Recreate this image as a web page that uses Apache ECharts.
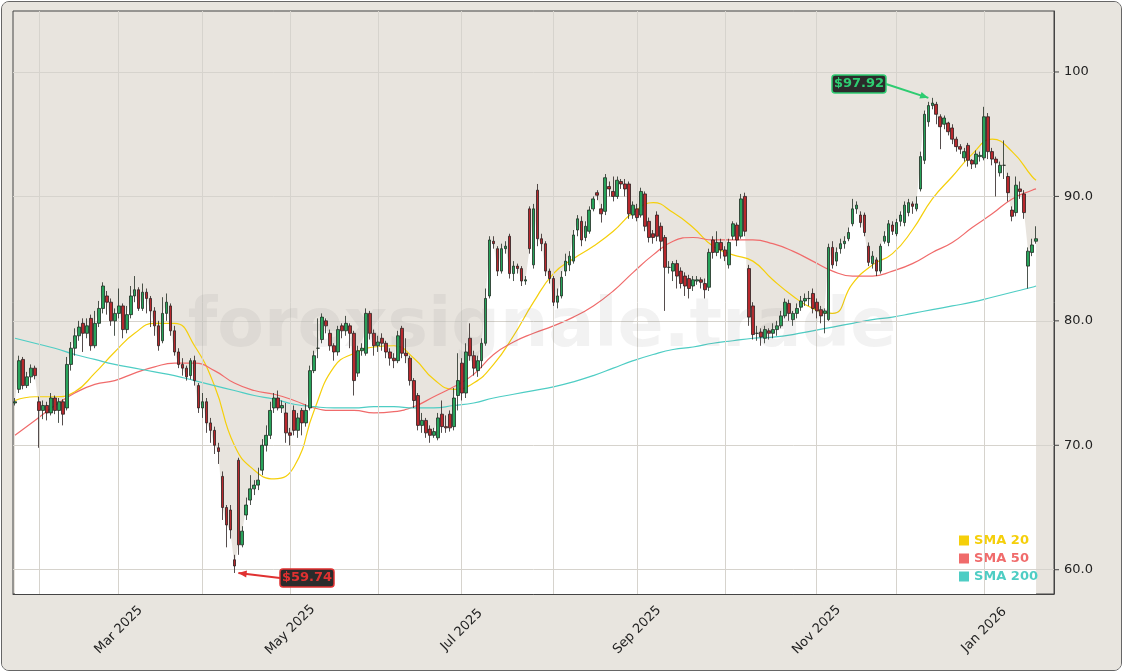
<!DOCTYPE html>
<html>
<head>
<meta charset="utf-8">
<script src="https://cdn.jsdelivr.net/npm/echarts@6/dist/echarts.min.js"></script>
<style>
html,body{margin:0;padding:0;background:#fff;}
#frame{position:absolute;left:1px;top:1px;width:1119px;height:668px;border:1px solid #666;border-radius:8px;background:#e8e5df;overflow:hidden;}
#chart{width:1121px;height:670px;}
</style>
</head>
<body>
<div id="frame"><div id="chart"></div></div>
<script>
// OHLC per trading day: [open, close, low, high]
var candles = [
[73.4,73.5,73.2,73.8],[74.5,76.8,74.2,77.2],[76.9,74.8,74.5,77.1],[74.8,75.5,74.6,75.9],[75.5,76.2,75.0,76.5],
[76.2,75.6,75.3,76.4],[73.5,72.8,69.8,73.9],[72.8,73.2,72.1,73.6],[73.2,72.6,72.0,73.5],[72.6,73.8,72.4,74.2],
[73.8,72.8,72.5,74.0],[72.8,73.5,71.8,73.8],[73.5,72.5,71.6,73.7],[73.0,76.5,72.8,77.1],[76.5,77.8,76.0,78.3],
[77.8,78.8,77.2,79.4],[78.8,79.5,78.4,80.0],[79.8,79.0,77.5,80.2],[79.0,79.6,78.6,80.2],[80.2,78.0,77.6,80.5],
[78.0,79.8,77.8,80.8],[79.8,81.0,79.5,81.6],[81.0,82.8,80.6,83.1],[82.0,81.5,80.5,82.4],[81.5,80.0,79.6,81.8],
[80.0,80.6,78.8,81.0],[80.6,81.2,80.2,82.6],[81.2,79.3,78.6,81.4],[79.3,80.5,79.0,81.2],[80.5,82.0,80.2,82.8],
[82.0,82.5,81.5,83.6],[82.5,81.0,80.8,82.7],[81.0,82.3,80.8,83.0],[82.3,81.8,80.6,82.6],[81.8,80.8,79.5,82.0],
[80.8,79.6,78.8,81.1],[79.6,78.0,77.6,80.0],[78.4,80.6,78.2,81.9],[80.6,81.5,80.0,82.2],[81.2,79.2,78.8,81.4],
[79.2,77.5,77.2,79.6],[77.5,76.5,76.2,77.8],[76.5,76.2,75.6,77.0],[76.2,75.5,75.2,76.4],[75.6,76.8,75.3,77.0],
[76.8,75.2,74.8,77.2],[74.8,73.0,72.6,75.0],[73.0,73.5,72.2,74.2],[73.5,71.8,71.0,73.8],[71.8,71.2,70.2,72.2],
[71.2,70.0,69.3,71.5],[69.8,69.5,68.5,70.2],[67.5,65.0,64.0,67.9],[65.0,63.6,61.8,65.2],[64.8,63.2,62.5,65.2],
[60.8,60.3,59.74,61.2],[68.8,62.0,61.2,69.0],[62.0,63.1,61.8,63.5],[64.4,65.2,64.0,65.8],[65.6,66.5,65.2,67.6],
[66.5,66.8,66.0,67.2],[66.8,67.2,66.4,68.2],[68.0,70.0,67.6,70.5],[70.0,70.8,69.5,71.6],[70.8,72.8,70.5,73.5],
[73.0,73.8,72.6,74.2],[73.8,73.0,72.8,74.4],[73.0,73.2,72.6,73.6],[72.6,71.0,70.2,73.4],[71.0,70.8,70.0,71.4],
[72.8,71.2,70.8,73.2],[71.2,72.2,70.6,72.6],[72.8,71.8,70.8,73.0],[71.8,72.8,71.5,73.3],[73.0,76.0,72.8,76.4],
[76.0,77.2,75.8,77.6],[77.8,77.8,77.0,80.2],[78.5,80.3,78.2,80.6],[80.0,79.6,79.0,80.2],[79.0,78.0,77.6,79.3],
[78.0,77.5,76.8,78.2],[77.5,79.3,77.2,79.6],[79.6,79.2,78.6,79.8],[79.2,79.8,78.8,80.4],[79.6,79.0,77.8,79.8],
[79.0,75.2,74.0,79.2],[75.8,77.6,75.5,78.0],[77.6,77.8,77.2,78.2],[77.4,80.6,77.2,81.0],[80.6,79.0,78.5,80.8],
[79.0,78.0,77.2,79.3],[78.0,78.3,77.5,78.8],[78.6,78.2,77.6,79.0],[78.2,77.5,77.0,78.4],[77.5,77.0,76.4,77.8],
[77.0,76.8,76.2,77.4],[76.8,78.8,76.6,79.2],[79.4,77.4,77.0,79.6],[77.4,77.2,76.6,78.6],[77.0,75.2,74.8,77.2],
[75.2,73.6,73.0,75.4],[74.0,71.6,71.2,74.2],[71.6,72.0,71.0,72.6],[72.0,71.0,70.6,72.2],[71.3,70.8,70.2,71.6],
[70.8,71.1,70.6,71.4],[70.6,72.2,70.4,72.6],[72.5,71.5,71.0,73.6],[71.5,71.4,71.0,72.4],[72.5,71.4,71.1,72.8],
[71.5,73.8,71.2,74.6],[74.0,75.2,72.8,77.4],[76.6,74.2,73.6,77.0],[74.2,77.5,73.8,78.2],[78.6,77.2,76.8,79.8],
[77.2,76.2,75.6,77.6],[76.0,76.8,75.5,77.2],[76.8,78.2,76.2,78.6],[78.2,81.8,78.0,82.6],[82.0,86.5,81.8,86.8],
[86.4,86.2,85.8,86.8],[85.8,84.0,83.6,86.0],[84.0,85.8,83.8,86.2],[85.8,86.0,85.4,86.4],[86.8,83.8,83.4,87.0],
[83.8,84.4,83.2,84.8],[84.4,84.2,83.8,84.6],[84.2,83.2,82.8,84.4],[83.2,83.3,82.9,83.6],[89.0,85.8,85.4,89.2],
[84.5,89.0,84.2,89.4],[90.5,86.6,86.0,91.0],[86.6,86.2,85.6,87.0],[86.2,84.0,83.6,86.4],[84.0,83.4,83.0,84.2],
[83.4,81.5,81.2,83.6],[81.5,82.0,81.0,82.6],[82.0,83.5,81.8,84.0],[84.0,84.8,83.6,85.4],[84.5,85.2,84.0,85.6],
[84.8,86.9,84.6,87.3],[87.3,88.2,86.8,88.5],[88.0,86.5,86.0,88.4],[86.7,87.6,86.4,88.0],[87.2,88.9,87.0,89.2],
[89.0,89.8,88.8,90.0],[90.3,90.1,89.7,90.5],[89.0,88.6,87.9,89.4],[88.8,91.5,88.5,91.8],[90.8,90.6,90.0,91.2],
[90.4,90.0,89.6,91.6],[90.0,91.3,89.8,91.6],[91.2,91.0,90.6,91.4],[91.0,90.6,90.0,91.4],[91.0,88.6,88.2,91.2],
[88.5,89.3,88.2,89.6],[89.0,88.3,88.0,89.4],[88.5,90.4,88.3,90.7],[90.2,87.6,87.2,90.4],[88.0,86.7,86.3,88.3],
[87.0,86.7,86.2,87.3],[88.5,86.8,86.4,88.8],[87.6,86.4,85.6,87.9],[86.7,84.3,80.8,86.9],[84.3,84.3,83.8,84.8],
[84.0,84.6,83.2,84.8],[84.6,83.6,82.6,84.9],[84.0,83.0,82.6,84.3],[83.6,82.8,82.0,83.9],[83.4,82.6,81.8,83.7],
[82.8,83.3,82.4,83.6],[83.2,83.3,82.9,83.6],[83.3,83.1,82.6,83.5],[83.0,82.5,81.8,83.4],[82.7,85.5,82.4,85.8],
[86.5,85.5,85.0,86.8],[85.5,86.3,85.2,87.2],[86.3,85.7,85.0,86.6],[85.7,85.2,84.8,86.0],[84.5,86.3,84.2,86.6],
[86.8,87.8,86.5,88.0],[87.7,86.5,86.0,87.9],[86.8,89.8,86.6,90.2],[90.0,87.2,86.8,90.3],[84.2,80.3,79.6,84.5],
[81.2,78.9,78.5,81.5],[79.0,79.0,78.4,79.6],[79.1,78.7,78.0,79.4],[78.6,79.3,78.2,79.6],[79.2,79.0,78.5,79.4],
[79.0,79.3,78.6,79.8],[79.3,79.6,78.8,80.0],[79.6,80.4,79.4,80.8],[80.4,81.5,80.2,81.8],[81.4,80.6,80.0,81.7],
[80.1,80.6,79.6,80.8],[80.6,81.0,80.2,81.4],[81.1,81.6,80.8,82.0],[81.6,81.8,81.2,82.2],[81.8,81.8,81.2,82.4],
[82.2,81.0,80.6,82.6],[81.5,80.8,80.2,81.8],[80.9,80.4,79.8,81.2],[80.6,80.8,79.0,81.0],[80.1,85.9,80.0,86.2],
[85.9,84.5,84.2,86.4],[84.8,85.5,84.4,85.9],[85.8,86.2,85.4,86.6],[86.2,86.4,85.8,86.8],[86.6,87.1,86.4,87.5],
[87.8,89.0,87.6,89.8],[89.0,89.3,88.6,89.6],[88.5,87.9,87.5,88.8],[88.5,87.1,86.8,88.7],[86.0,84.7,84.4,86.3],
[84.6,85.2,84.2,85.6],[84.9,84.0,83.6,85.1],[84.0,86.0,83.8,86.2],[86.4,86.8,86.2,87.2],[86.3,87.8,86.0,88.1],
[87.7,87.2,86.9,88.0],[87.0,87.9,86.8,88.2],[88.0,88.5,87.6,88.8],[87.9,89.3,87.6,89.6],[88.7,89.5,88.4,89.8],
[89.4,89.2,88.6,89.6],[89.0,89.4,88.8,90.0],[90.6,93.2,90.4,93.6],[92.9,96.6,92.6,96.9],[96.0,97.3,95.6,97.6],
[97.3,97.5,97.0,97.92],[97.4,96.6,95.8,97.6],[96.4,95.6,93.8,96.6],[95.8,96.3,95.4,96.5],[95.9,95.2,94.9,96.0],
[95.5,94.6,94.2,95.8],[94.6,94.0,93.6,94.8],[94.0,93.8,93.4,94.2],[93.1,93.6,92.8,93.9],[94.1,92.9,92.4,94.3],
[92.9,92.6,92.2,93.0],[92.6,93.4,92.3,93.7],[93.2,93.3,92.8,93.6],[93.1,96.4,92.9,97.2],[96.4,93.6,93.0,96.7],
[93.6,93.0,92.5,93.9],[93.0,92.7,90.0,93.2],[91.9,92.5,91.6,92.8],[92.5,92.5,91.4,94.5],[91.6,90.3,89.6,91.9],
[88.9,88.4,88.0,89.2],[88.7,90.9,88.4,91.6],[90.6,90.4,89.8,91.2],[90.2,88.7,88.2,90.5],[84.4,85.6,82.6,85.9],
[85.5,86.1,85.2,86.6],[86.4,86.6,86.2,87.6]
];
// moving averages read every 5 trading days (index, value)
var smaIdx = [0,5,10,15,20,25,30,35,40,45,50,55,60,65,70,75,80,85,90,95,100,105,110,115,120,125,130,135,140,145,150,155,160,165,170,175,180,185,190,195,200,205,210,215,220,225,230,235,240,245,250,255,256];
var sma20 = [73.6,73.9,73.9,74.3,75.8,77.5,79.0,79.8,79.8,78.0,74.8,70.0,68.0,67.3,68.3,72.8,76.3,77.4,77.9,78.0,77.0,75.3,74.5,75.0,76.5,78.8,81.5,83.8,85.0,86.0,87.2,88.7,89.5,88.7,87.5,86.0,85.3,84.8,83.3,82.0,81.0,80.6,83.0,84.5,85.4,87.3,89.8,91.6,93.4,94.6,93.6,91.6,91.3];
var sma50 = [70.8,72.0,73.2,74.2,74.9,75.2,75.8,76.3,76.6,76.6,76.0,75.0,74.4,74.1,73.6,73.0,72.8,72.8,72.6,72.7,73.1,73.9,74.7,75.7,77.3,78.3,79.0,79.6,80.3,81.2,82.4,83.9,85.3,86.4,86.7,86.5,86.5,86.5,86.2,85.6,84.8,84.0,83.6,83.6,84.0,84.6,85.5,86.3,87.5,88.6,89.8,90.5,90.6];
var sma200 = [78.6,78.2,77.8,77.3,76.9,76.5,76.2,75.9,75.6,75.2,74.8,74.4,74.0,73.7,73.3,73.1,73.0,73.0,73.1,73.1,73.0,73.0,73.2,73.4,73.8,74.1,74.4,74.7,75.1,75.6,76.2,76.8,77.3,77.7,77.9,78.2,78.4,78.6,78.7,78.9,79.2,79.5,79.8,80.1,80.3,80.6,80.9,81.2,81.5,81.9,82.3,82.7,82.8];
var yTicks = [60, 70, 80, 90, 100];
var closedDays = ['2025-12-25', '2026-01-01'];
var monthNames = ['Jan','Feb','Mar','Apr','May','Jun','Jul','Aug','Sep','Oct','Nov','Dec'];

// trading-day categories (+4 empty days of right padding)
var dates = [];
var d = new Date(Date.UTC(2025, 0, 24));
while (dates.length < candles.length + 4) {
  var s = d.toISOString().slice(0, 10);
  if (d.getUTCDay() % 6 !== 0 && closedDays.indexOf(s) < 0) dates.push(s);
  d.setUTCDate(d.getUTCDate() + 1);
}
var firstOfMonth = {};
dates.forEach(function (s, i) {
  if (i > 0 && s.slice(5, 7) !== dates[i - 1].slice(5, 7)) firstOfMonth[i] = s;
});
function isMonthStart(i) { return firstOfMonth[i] !== undefined; }
function isLabelMonth(i) { return isMonthStart(i) && (+dates[i].slice(5, 7)) % 2 === 1; }

var closes = candles.map(function (c) { return c[1]; });
function smaLine(arr) { return smaIdx.map(function (ix, k) { return [dates[ix], arr[k]]; }); }

var gridLines = yTicks.map(function (v) { return { yAxis: v }; })
  .concat(Object.keys(firstOfMonth).map(function (i) { return { xAxis: dates[i] }; }));

var chart = echarts.init(document.getElementById('chart'));
chart.setOption({
  backgroundColor: '#e8e5df',
  animation: false,
  textStyle: { fontFamily: 'DejaVu Sans' },
  grid: { left: 11, right: 69, top: 9, bottom: 78, show: true, backgroundColor: '#e8e4de', borderColor: '#444', borderWidth: 1 },
  xAxis: {
    type: 'category', data: dates, boundaryGap: true,
    axisLine: { lineStyle: { color: '#444' } },
    axisTick: { interval: function (i) { return isMonthStart(i); }, length: 5, lineStyle: { color: '#444' } },
    axisLabel: {
      interval: function (i) { return isLabelMonth(i); }, rotate: 45, color: '#222', fontSize: 13, margin: 36,
      align: 'center', verticalAlign: 'middle',
      formatter: function (v) { return monthNames[+v.slice(5, 7) - 1] + ' ' + v.slice(0, 4); }
    },
    splitLine: { show: false }
  },
  yAxis: {
    type: 'value', position: 'right', min: 58.05, max: 104.9, scale: true,
    axisLine: { show: true, lineStyle: { color: '#444' } },
    axisTick: { show: false }, axisLabel: { show: false }, splitLine: { show: false }
  },
  legend: {
    orient: 'vertical', right: 80, top: 527, itemWidth: 10, itemHeight: 10, itemGap: 5, icon: 'rect',
    textStyle: { fontSize: 13, fontWeight: 'bold' },
    data: [
      { name: 'SMA 20', textStyle: { color: '#f5cf0a' } },
      { name: 'SMA 50', textStyle: { color: '#f06b6b' } },
      { name: 'SMA 200', textStyle: { color: '#4ecdc4' } }
    ]
  },
  series: [
    {
      name: 'area', type: 'line', data: closes, symbol: 'none', silent: true, z: 1,
      lineStyle: { width: 0 }, areaStyle: { color: '#ffffff', opacity: 1, origin: 'start' },
      markLine: {
        silent: true, symbol: 'none', label: { show: false },
        lineStyle: { color: '#d6d3cd', width: 1, type: 'solid' }, data: gridLines
      }
    },
    { name: 'SMA 20', type: 'line', data: smaLine(sma20), smooth: true, symbol: 'none', color: '#f5cf0a', lineStyle: { width: 1.2 }, z: 3 },
    { name: 'SMA 50', type: 'line', data: smaLine(sma50), smooth: true, symbol: 'none', color: '#f06b6b', lineStyle: { width: 1.2 }, z: 3 },
    { name: 'SMA 200', type: 'line', data: smaLine(sma200), smooth: true, symbol: 'none', color: '#4ecdc4', lineStyle: { width: 1.2 }, z: 3 },
    {
      name: 'price', type: 'candlestick', data: candles, barWidth: 3.2, z: 5,
      itemStyle: { color: '#27a35a', color0: '#b8282d', borderColor: '#1f2b22', borderColor0: '#2a2020', borderWidth: 0.8 }
    }
  ]
});

// right axis labels, peak/trough annotations, watermark
var g = [];
yTicks.forEach(function (v) {
  var p = chart.convertToPixel({ gridIndex: 0 }, [0, v]);
  g.push({ type: 'line', shape: { x1: 1052, y1: p[1], x2: 1057, y2: p[1] }, style: { stroke: '#444' } });
  g.push({ type: 'text', x: 1062, y: p[1], style: { text: v >= 100 ? String(v) : v.toFixed(1), fill: '#222', font: '13px DejaVu Sans', textVerticalAlign: 'middle' } });
});
g.push({ type: 'text', x: 540, y: 326, z: 50, silent: true, style: { text: 'forexsignale.trade', fill: 'rgba(110,110,110,0.09)', font: 'bold 68px DejaVu Sans', textAlign: 'center', textVerticalAlign: 'middle' } });

function annotate(ix, val, bx, by, col) {
  var p = chart.convertToPixel({ gridIndex: 0 }, [dates[ix], val]);
  var txt = '$' + val.toFixed(2);
  var w = 54, h = 18;
  var toLeft = p[0] < bx;
  var sx = toLeft ? bx - w / 2 : bx + w / 2;
  var ex = toLeft ? p[0] + 4 : p[0] - 4;
  var ang = Math.atan2(p[1] - by, ex - sx);
  g.push({ type: 'line', z: 100, shape: { x1: sx, y1: by, x2: ex, y2: p[1] }, style: { stroke: col, lineWidth: 2 } });
  g.push({ type: 'polygon', z: 100, shape: { points: [
    [ex, p[1]],
    [ex - 9 * Math.cos(ang - 0.4), p[1] - 9 * Math.sin(ang - 0.4)],
    [ex - 9 * Math.cos(ang + 0.4), p[1] - 9 * Math.sin(ang + 0.4)]
  ] }, style: { fill: col } });
  g.push({ type: 'rect', z: 100, shape: { x: bx - w / 2, y: by - h / 2, width: w, height: h, r: 3 }, style: { fill: '#2b2b2b', stroke: col, lineWidth: 1.5 } });
  g.push({ type: 'text', z: 101, x: bx, y: by, style: { text: txt, fill: col, font: 'bold 13px DejaVu Sans', textAlign: 'center', textVerticalAlign: 'middle' } });
}
annotate(230, 97.92, 857, 82, '#2ecc71');
annotate(55, 59.74, 305, 576, '#e03131');
chart.setOption({ graphic: g });
</script>
</body>
</html>
